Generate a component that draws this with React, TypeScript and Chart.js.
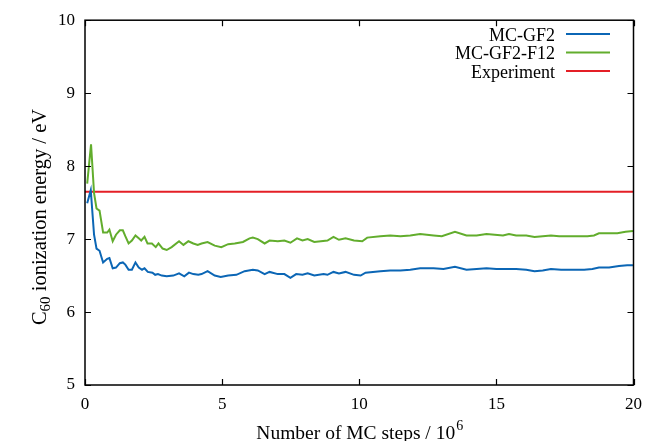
import { useEffect, useRef } from "react";
import { Chart, registerables } from "chart.js";

Chart.register(...registerables);

const gf2Steps = [0.08, 0.21, 0.33, 0.42, 0.53, 0.66, 0.81, 0.89, 1.01, 1.13, 1.27, 1.38, 1.47, 1.59, 1.71, 1.84, 1.96, 2.08, 2.17, 2.29, 2.46, 2.56, 2.66, 2.8, 2.98, 3.22, 3.43, 3.62, 3.79, 3.95, 4.13, 4.25, 4.47, 4.73, 4.95, 5.22, 5.52, 5.82, 6.12, 6.3, 6.55, 6.73, 7.03, 7.27, 7.49, 7.7, 7.93, 8.12, 8.36, 8.7, 8.84, 9.06, 9.26, 9.5, 9.81, 10.05, 10.23, 10.77, 11.13, 11.5, 11.86, 12.22, 12.71, 13.07, 13.49, 13.91, 14.28, 14.64, 15.0, 15.46, 15.72, 16.09, 16.39, 16.69, 16.99, 17.36, 17.78, 18.2, 18.5, 18.74, 19.11, 19.47, 19.77, 19.98];
const gf2Energy = [7.49, 7.67, 7.06, 6.87, 6.84, 6.68, 6.73, 6.74, 6.6, 6.61, 6.67, 6.68, 6.65, 6.58, 6.58, 6.68, 6.61, 6.58, 6.6, 6.55, 6.54, 6.51, 6.52, 6.5, 6.49, 6.5, 6.53, 6.49, 6.54, 6.52, 6.51, 6.52, 6.56, 6.5, 6.48, 6.5, 6.51, 6.56, 6.58, 6.57, 6.52, 6.55, 6.52, 6.52, 6.47, 6.52, 6.51, 6.53, 6.5, 6.52, 6.51, 6.55, 6.53, 6.55, 6.51, 6.5, 6.54, 6.56, 6.57, 6.57, 6.58, 6.6, 6.6, 6.59, 6.62, 6.58, 6.59, 6.6, 6.59, 6.59, 6.59, 6.58, 6.56, 6.57, 6.59, 6.58, 6.58, 6.58, 6.59, 6.61, 6.61, 6.63, 6.64, 6.64];

const f12Steps = [0.08, 0.22, 0.33, 0.42, 0.53, 0.66, 0.81, 0.89, 1.01, 1.13, 1.27, 1.38, 1.47, 1.59, 1.71, 1.84, 1.96, 2.05, 2.17, 2.28, 2.44, 2.58, 2.68, 2.83, 2.98, 3.16, 3.43, 3.59, 3.77, 3.95, 4.11, 4.25, 4.47, 4.73, 4.97, 5.22, 5.46, 5.76, 6.0, 6.12, 6.3, 6.55, 6.73, 7.03, 7.27, 7.49, 7.73, 7.93, 8.12, 8.36, 8.6, 8.84, 9.06, 9.26, 9.5, 9.81, 10.11, 10.29, 10.77, 11.13, 11.5, 11.86, 12.22, 12.71, 13.01, 13.49, 13.91, 14.28, 14.64, 14.94, 15.24, 15.46, 15.72, 16.09, 16.39, 16.69, 16.99, 17.29, 17.66, 18.02, 18.32, 18.56, 18.74, 19.11, 19.41, 19.71, 19.98];
const f12Energy = [7.76, 8.3, 7.63, 7.42, 7.39, 7.09, 7.09, 7.13, 6.97, 7.06, 7.12, 7.12, 7.04, 6.94, 6.98, 7.05, 7.01, 6.98, 7.03, 6.94, 6.94, 6.89, 6.94, 6.87, 6.85, 6.89, 6.97, 6.92, 6.97, 6.94, 6.92, 6.94, 6.96, 6.91, 6.89, 6.93, 6.94, 6.96, 7.01, 7.02, 7.0, 6.94, 6.98, 6.97, 6.98, 6.95, 7.01, 6.98, 7.0, 6.96, 6.97, 6.98, 7.03, 6.99, 7.01, 6.98, 6.97, 7.02, 7.04, 7.05, 7.04, 7.05, 7.07, 7.05, 7.04, 7.1, 7.05, 7.05, 7.07, 7.06, 7.05, 7.07, 7.05, 7.05, 7.03, 7.04, 7.05, 7.04, 7.04, 7.04, 7.04, 7.05, 7.08, 7.08, 7.08, 7.1, 7.11];

const experimentSteps = [0, 20];
const experimentEnergy = [7.65, 7.65];

const seriesLabels = ["MC-GF2", "MC-GF2-F12", "Experiment"];
const seriesColors = ["#0b66b5", "#62ad2d", "#e41f26"];
const xTickValues = [0, 5, 10, 15, 20];
const yTickValues = [5, 6, 7, 8, 9, 10];
const xTitle = "Number of MC steps / 10";
const xTitleSup = "6";
const yTitleMain = "C";
const yTitleSub = "60";
const yTitleRest = " ionization energy / eV";

const FONT = "'Liberation Serif', 'Times New Roman', serif";

function pts(xs: number[], ys: number[]) {
  return xs.map((x, i) => ({ x, y: ys[i] }));
}

const framePlugin = {
  id: "frameAndTitles",
  afterDatasetsDraw(chart: any) {
    const { ctx, chartArea, scales } = chart;
    const { left, right, top, bottom } = chartArea;
    ctx.save();
    ctx.strokeStyle = "#000";
    ctx.lineWidth = 1.5;
    ctx.strokeRect(left, top, right - left, bottom - top);
    const tl = 6;
    ctx.lineWidth = 1.2;
    ctx.beginPath();
    for (const v of xTickValues) {
      const px = Math.round(scales.x.getPixelForValue(v)) + 0.5;
      ctx.moveTo(px, bottom);
      ctx.lineTo(px, bottom - tl);
      ctx.moveTo(px, top);
      ctx.lineTo(px, top + tl);
    }
    for (const v of yTickValues) {
      const py = Math.round(scales.y.getPixelForValue(v)) + 0.5;
      ctx.moveTo(left, py);
      ctx.lineTo(left + tl, py);
      ctx.moveTo(right, py);
      ctx.lineTo(right - tl, py);
    }
    ctx.stroke();

    // legend
    const rowY = [34, 52.5, 71];
    ctx.font = `18px ${FONT}`;
    ctx.fillStyle = "#000";
    ctx.textAlign = "right";
    ctx.textBaseline = "alphabetic";
    chart.data.datasets.forEach((ds: any, i: number) => {
      const y = rowY[i];
      ctx.fillText(ds.label, 555, y + 6.5);
      ctx.strokeStyle = ds.borderColor;
      ctx.lineWidth = 2;
      ctx.beginPath();
      ctx.moveTo(566, y);
      ctx.lineTo(610, y);
      ctx.stroke();
    });

    // x title
    const cx = (left + right) / 2;
    ctx.font = `19.5px ${FONT}`;
    const w1 = ctx.measureText(xTitle).width;
    ctx.font = `14px ${FONT}`;
    const w2 = ctx.measureText(xTitleSup).width;
    const sx = cx - (w1 + w2) / 2;
    ctx.textAlign = "left";
    ctx.font = `19.5px ${FONT}`;
    ctx.fillText(xTitle, sx, 439);
    ctx.font = `14px ${FONT}`;
    ctx.fillText(xTitleSup, sx + w1 + 1, 430);

    // y title
    ctx.translate(46, 217);
    ctx.rotate(-Math.PI / 2);
    ctx.font = `20.5px ${FONT}`;
    const a = ctx.measureText(yTitleMain).width;
    const c = ctx.measureText(yTitleRest).width;
    ctx.font = `15px ${FONT}`;
    const b = ctx.measureText(yTitleSub).width;
    const x0 = -(a + b + c) / 2;
    ctx.font = `20.5px ${FONT}`;
    ctx.fillText(yTitleMain, x0, 0);
    ctx.font = `15px ${FONT}`;
    ctx.fillText(yTitleSub, x0 + a, 4);
    ctx.font = `20.5px ${FONT}`;
    ctx.fillText(yTitleRest, x0 + a + b, 0);
    ctx.restore();
  },
};

export default function App() {
  const ref = useRef<HTMLCanvasElement | null>(null);
  useEffect(() => {
    document.body.style.margin = "0";
    const canvas = ref.current;
    if (!canvas) return;
    const chart = new Chart(canvas, {
      type: "line",
      data: {
        datasets: [
          { label: seriesLabels[0], data: pts(gf2Steps, gf2Energy), borderColor: seriesColors[0], backgroundColor: seriesColors[0], borderWidth: 2, pointRadius: 0, tension: 0 },
          { label: seriesLabels[1], data: pts(f12Steps, f12Energy), borderColor: seriesColors[1], backgroundColor: seriesColors[1], borderWidth: 2, pointRadius: 0, tension: 0 },
          { label: seriesLabels[2], data: pts(experimentSteps, experimentEnergy), borderColor: seriesColors[2], backgroundColor: seriesColors[2], borderWidth: 2, pointRadius: 0, tension: 0 },
        ],
      },
      options: {
        responsive: false,
        animation: false,
        devicePixelRatio: 1,
        layout: { padding: { top: 19, right: 13, left: 0, bottom: 0 } },
        plugins: { legend: { display: false }, tooltip: { enabled: false } },
        scales: {
          x: {
            type: "linear",
            min: 0,
            max: 20,
            afterFit: (s: any) => { s.height = 56; },
            afterBuildTicks: (s: any) => { s.ticks = xTickValues.map((v) => ({ value: v })); },
            ticks: { font: { family: FONT, size: 17 }, color: "#000", padding: 9, maxRotation: 0 },
            grid: { display: false, drawTicks: false },
            border: { display: false },
          },
          y: {
            type: "linear",
            min: 5,
            max: 10,
            afterFit: (s: any) => { s.width = 85; },
            afterBuildTicks: (s: any) => { s.ticks = yTickValues.map((v) => ({ value: v })); },
            ticks: { font: { family: FONT, size: 17 }, color: "#000", padding: 10 },
            grid: { display: false, drawTicks: false },
            border: { display: false },
          },
        },
      },
      plugins: [framePlugin],
    } as any);
    return () => chart.destroy();
  }, []);
  return (
    <div style={{ width: 651, height: 441 }}>
      <canvas ref={ref} width={651} height={441} style={{ display: "block" }} />
    </div>
  );
}
